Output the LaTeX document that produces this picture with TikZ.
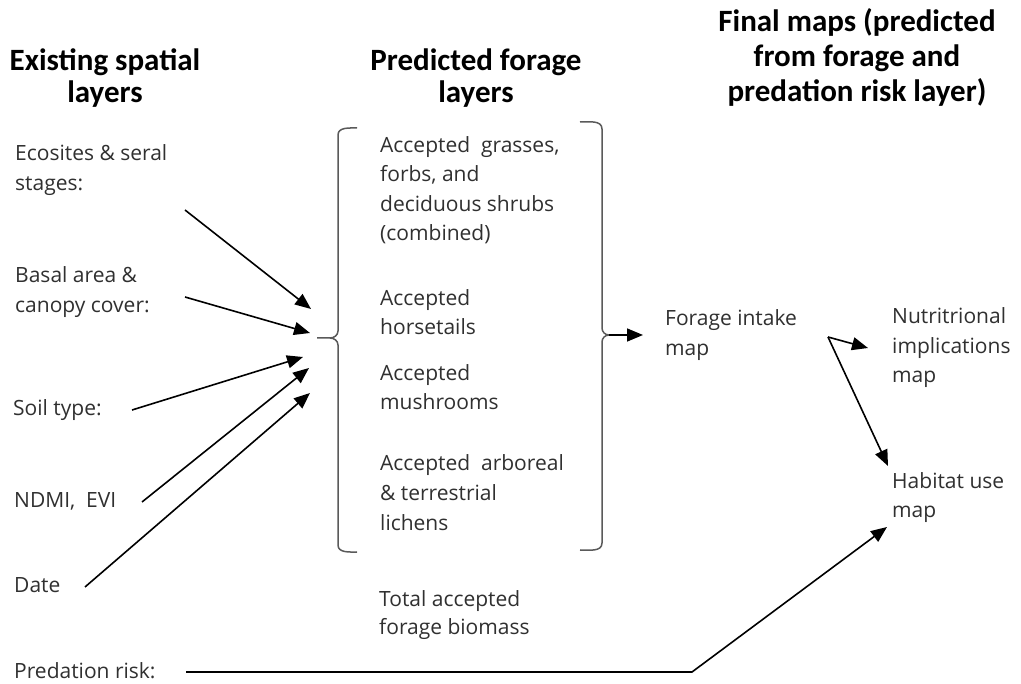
\documentclass[tikz,border=0pt]{standalone}
\usepackage{fontspec}
\setmainfont{Open Sans}
\newfontfamily\headfont{Carlito}
\usetikzlibrary{arrows.meta}
\definecolor{txt}{HTML}{303030}
\definecolor{brc}{HTML}{5A5A5A}
\begin{document}
\begin{tikzpicture}[x=1pt,y=-1pt,
  lbl/.style={inner sep=0pt, anchor=base west, align=left, text=txt, font=\fontsize{21}{29.5}\selectfont},
  head/.style={inner sep=0pt, anchor=base, align=center, text=black, font=\headfont\bfseries\fontsize{31}{32}\selectfont},
  arr/.style={line width=1.6pt, -{Triangle[length=16pt,width=13pt]}},
  brace/.style={line width=1.5pt, draw=brc}]
\useasboundingbox[fill=white] (0,0) rectangle (1021,684);

% headings (base anchor = baseline of the last line)
\node[head] (h1) at (105,103) {Existing spatial\\layers};
\node[head] (h2) at (476,103) {Predicted forage\\layers};
\node[head, font=\headfont\bfseries\fontsize{31}{35}\selectfont] (h3) at (857,102) {Final maps (predicted\\from forage and\\predation risk layer)};

% left inputs
\node[lbl, font=\fontsize{21}{30}\selectfont] (eco) at (15,191) {Ecosites \& seral\\stages:};
\node[lbl, font=\fontsize{21}{30}\selectfont] (bas) at (15,313) {Basal area \&\\canopy cover:};
\node[lbl] (soil) at (13,416) {Soil type:};
\node[lbl] (ndmi) at (14,508) {NDMI,\ \ EVI};
\node[lbl] (date) at (14,593) {Date};
\node[lbl] (pred) at (14,678) {Predation risk:};

% forage layers
\node[lbl] (f1) at (380,241) {Accepted\ \ grasses,\\forbs, and\\deciduous shrubs\\(combined)};
\node[lbl] (f2) at (380,335) {Accepted\\horsetails};
\node[lbl] (f3) at (380,410) {Accepted\\mushrooms};
\node[lbl, font=\fontsize{21}{30}\selectfont] (f4) at (380,531) {Accepted\ \ arboreal\\\& terrestrial\\lichens};
\node[lbl, font=\fontsize{21}{28}\selectfont] (tot) at (379,634) {Total accepted\\forage biomass};

% outputs
\node[lbl, font=\fontsize{21}{30}\selectfont] (fim) at (665,356) {Forage intake\\map};
\node[lbl] (nut) at (892,383) {Nutritrional\\implications\\map};
\node[lbl, font=\fontsize{21}{29}\selectfont] (hab) at (892,518) {Habitat use\\map};

% connector end points
\coordinate (ecoS) at (185,210);
\coordinate (ecoT) at (311,309);
\coordinate (basS) at (185,297);
\coordinate (basT) at (310,333);
\coordinate (soilS) at (132,410);
\coordinate (soilT) at (303,357);
\coordinate (ndmiS) at (142,502);
\coordinate (ndmiT) at (309,368);
\coordinate (dateS) at (85,587);
\coordinate (dateT) at (310,393);
\coordinate (lb) at (317,338);
\coordinate (rb) at (609,335);
\coordinate (fimT) at (643,335);
\coordinate (fork) at (828,337);
\coordinate (nutT) at (868,348);
\coordinate (habT) at (888,466);
\coordinate (predS) at (186,672);
\coordinate (predK) at (692,672);
\coordinate (habT2) at (887,527);

% arrows into braces
\draw[arr] (ecoS) -- (ecoT);
\draw[arr] (basS) -- (basT);
\draw[arr] (soilS) -- (soilT);
\draw[arr] (ndmiS) -- (ndmiT);
\draw[arr] (dateS) -- (dateT);

% left brace
\draw[brace] (357,128) to[out=180,in=90] (338,135) -- (338,331) to[out=-90,in=0] (330,338) -- (lb);
\draw[brace] (330,338) to[out=0,in=90] (338,345) -- (338,545) to[out=-90,in=180] (357,552);
% right brace
\draw[brace] (580,122) to[out=0,in=90] (602,129) -- (602,328) to[out=-90,in=180] (rb);
\draw[brace] (rb) to[out=180,in=90] (602,342) -- (602,543) to[out=-90,in=0] (580,550);

% outputs
\draw[arr] (rb) -- (fimT);
\draw[arr] (fork) -- (nutT);
\draw[arr] (fork) -- (habT);
\draw[arr] (predS) -- (predK) -- (habT2);
\end{tikzpicture}
\end{document}
